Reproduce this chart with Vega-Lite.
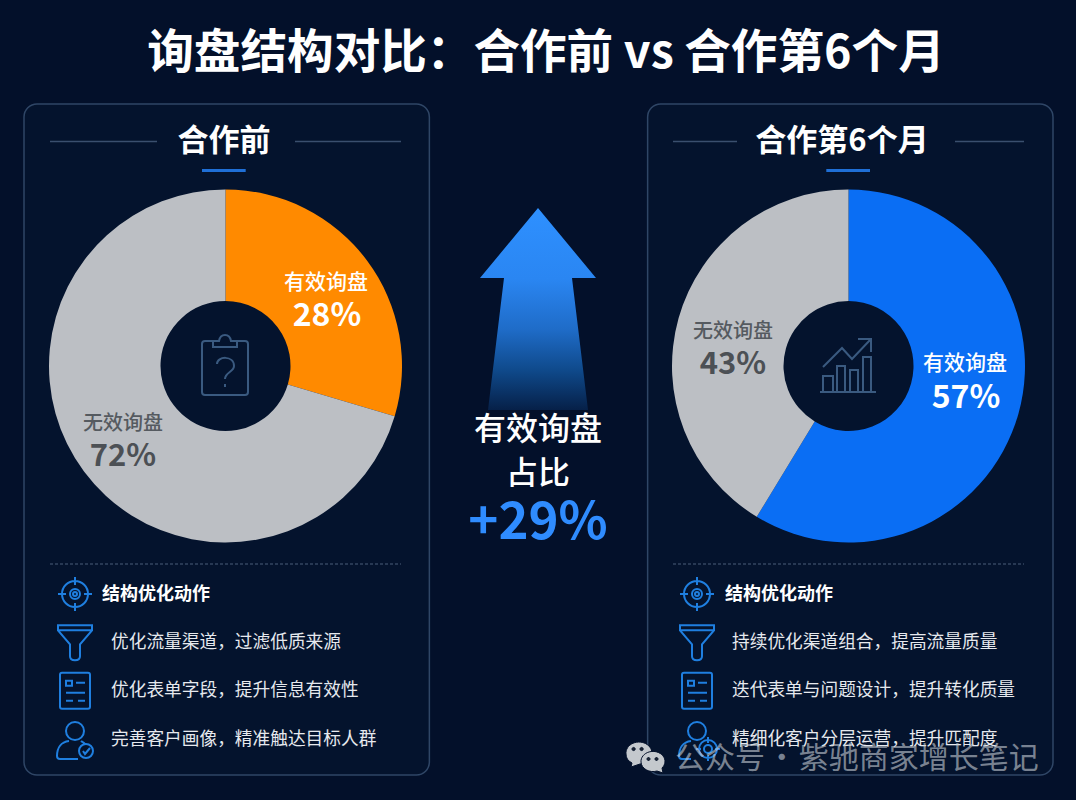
{
"$schema":"https://vega.github.io/schema/vega-lite/v6.json",
"width":1076,"height":800,"padding":0,
"autosize":{"type":"fit","contains":"padding"},
"background":"#03102a",
"config":{"font":"Noto Sans CJK SC","view":{"stroke":null}},
"datasets":{
"panels":[{"panel":"合作前","frame":"card"},{"panel":"合作第6个月","frame":"card"}],
"shares":[
{"panel":"合作前","slice":"有效询盘","share":0.28,"sweep":0.296},
{"panel":"合作前","slice":"无效询盘","share":0.72,"sweep":0.704},
{"panel":"合作第6个月","slice":"有效询盘","share":0.57,"sweep":0.587},
{"panel":"合作第6个月","slice":"无效询盘","share":0.43,"sweep":0.413}],
"actions":[
{"panel":"合作前","row":"target","icon":"target","label":"结构优化动作"},
{"panel":"合作前","row":"funnel","icon":"funnel","label":"优化流量渠道，过滤低质来源"},
{"panel":"合作前","row":"form","icon":"form","label":"优化表单字段，提升信息有效性"},
{"panel":"合作前","row":"person","icon":"person-check","label":"完善客户画像，精准触达目标人群"},
{"panel":"合作第6个月","row":"target","icon":"target","label":"结构优化动作"},
{"panel":"合作第6个月","row":"funnel","icon":"funnel","label":"持续优化渠道组合，提高流量质量"},
{"panel":"合作第6个月","row":"form","icon":"form","label":"迭代表单与问题设计，提升转化质量"},
{"panel":"合作第6个月","row":"person","icon":"person-target","label":"精细化客户分层运营，提升匹配度"}]
},
"resolve":{"scale":{"x":"independent","y":"independent","theta":"independent","color":"independent","shape":"independent"}},
"layer":[
{"data":{"name":"panels"},"mark":{"type":"rect","fill":"#04132d","stroke":"#2f4666","strokeWidth":1.5,"cornerRadius":13},
 "encoding":{"x":{"field":"panel","type":"nominal","axis":null,"scale":{"type":"band","domain":["合作前","合作第6个月"],"range":[24,1053],"paddingInner":0.35,"paddingOuter":0}},
 "y":{"field":"frame","type":"nominal","axis":null,"scale":{"type":"band","domain":["card"],"range":[104,775],"padding":0}}}},
{"data":{"values":[{"label":"询盘结构对比：合作前 vs 合作第6个月"}]},"mark":{"type":"text","fontSize":46.6,"fontWeight":"bold","fill":"#ffffff","baseline":"middle"},
 "encoding":{"text":{"field":"label"},"x":{"field":"label","type":"nominal","axis":null,"scale":{"range":[546,546]}},"y":{"field":"label","type":"nominal","axis":null,"scale":{"range":[54,54]}}}},
{"data":{"name":"panels"},"mark":{"type":"text","fontSize":31,"fontWeight":"bold","fill":"#ffffff","baseline":"middle"},
 "encoding":{"text":{"field":"panel"},"x":{"field":"panel","type":"nominal","axis":null,"scale":{"domain":["合作前","合作第6个月"],"range":[224,842],"padding":0}},"y":{"field":"frame","type":"nominal","axis":null,"scale":{"range":[142,142]}}}},
{"data":{"values":[{"a":"start","b":"end","line":"head"}]},"mark":{"type":"rule","stroke":"#3a4f6e","strokeWidth":1.5},
 "encoding":{"x":{"field":"a","type":"nominal","axis":null,"scale":{"type":"point","domain":["start","end"],"range":[50,157],"padding":0}},"x2":{"field":"b"},"y":{"field":"line","type":"nominal","axis":null,"scale":{"range":[141.5,141.5]}}}},
{"data":{"values":[{"a":"start","b":"end","line":"head"}]},"mark":{"type":"rule","stroke":"#3a4f6e","strokeWidth":1.5},
 "encoding":{"x":{"field":"a","type":"nominal","axis":null,"scale":{"type":"point","domain":["start","end"],"range":[295,401],"padding":0}},"x2":{"field":"b"},"y":{"field":"line","type":"nominal","axis":null,"scale":{"range":[141.5,141.5]}}}},
{"data":{"values":[{"a":"start","b":"end","line":"head"}]},"mark":{"type":"rule","stroke":"#3a4f6e","strokeWidth":1.5},
 "encoding":{"x":{"field":"a","type":"nominal","axis":null,"scale":{"type":"point","domain":["start","end"],"range":[673,737],"padding":0}},"x2":{"field":"b"},"y":{"field":"line","type":"nominal","axis":null,"scale":{"range":[141.5,141.5]}}}},
{"data":{"values":[{"a":"start","b":"end","line":"head"}]},"mark":{"type":"rule","stroke":"#3a4f6e","strokeWidth":1.5},
 "encoding":{"x":{"field":"a","type":"nominal","axis":null,"scale":{"type":"point","domain":["start","end"],"range":[955,1024],"padding":0}},"x2":{"field":"b"},"y":{"field":"line","type":"nominal","axis":null,"scale":{"range":[141.5,141.5]}}}},
{"data":{"name":"panels"},"mark":{"type":"rect","fill":"#1f6fd6"},
 "encoding":{"x":{"field":"panel","type":"nominal","axis":null,"scale":{"type":"band","domain":["合作前","合作第6个月"],"range":[202,870],"paddingInner":0.93,"paddingOuter":0}},
 "y":{"field":"frame","type":"nominal","axis":null,"scale":{"type":"band","domain":["card"],"range":[169,172],"padding":0}}}},
{"data":{"values":[{"a":"start","b":"end","line":"divider"}]},"mark":{"type":"rule","stroke":"#4a5f7a","strokeWidth":1,"strokeDash":[3,2]},
 "encoding":{"x":{"field":"a","type":"nominal","axis":null,"scale":{"type":"point","domain":["start","end"],"range":[50,401],"padding":0}},"x2":{"field":"b"},"y":{"field":"line","type":"nominal","axis":null,"scale":{"range":[564,564]}}}},
{"data":{"values":[{"a":"start","b":"end","line":"divider"}]},"mark":{"type":"rule","stroke":"#4a5f7a","strokeWidth":1,"strokeDash":[3,2]},
 "encoding":{"x":{"field":"a","type":"nominal","axis":null,"scale":{"type":"point","domain":["start","end"],"range":[673,1024],"padding":0}},"x2":{"field":"b"},"y":{"field":"line","type":"nominal","axis":null,"scale":{"range":[564,564]}}}},
{"data":{"name":"shares"},"transform":[{"filter":"datum.panel==='合作前'"}],"mark":{"type":"arc","outerRadius":176.5,"innerRadius":65},
 "encoding":{"theta":{"field":"sweep","type":"quantitative","stack":true},"order":{"field":"slice","sort":"descending"},
 "color":{"field":"slice","type":"nominal","legend":null,"scale":{"domain":["有效询盘","无效询盘"],"range":["#ff8a00","#bcbfc4"]}},
 "x":{"field":"panel","type":"nominal","axis":null,"scale":{"range":[225.5,225.5]}},"y":{"field":"panel","type":"nominal","axis":null,"scale":{"range":[366,366]}}}},
{"data":{"name":"shares"},"transform":[{"filter":"datum.panel==='合作第6个月'"}],"mark":{"type":"arc","outerRadius":176.5,"innerRadius":65},
 "encoding":{"theta":{"field":"sweep","type":"quantitative","stack":true},"order":{"field":"slice","sort":"descending"},
 "color":{"field":"slice","type":"nominal","legend":null,"scale":{"domain":["有效询盘","无效询盘"],"range":["#0a6ef4","#bcbfc4"]}},
 "x":{"field":"panel","type":"nominal","axis":null,"scale":{"range":[848.5,848.5]}},"y":{"field":"panel","type":"nominal","axis":null,"scale":{"range":[366,366]}}}},
{"data":{"name":"shares"},"transform":[{"filter":"datum.slice==='有效询盘'"}],"mark":{"type":"text","fontSize":21,"fontWeight":500,"fill":"#ffffff","baseline":"middle"},
 "encoding":{"text":{"field":"slice"},"x":{"field":"panel","type":"nominal","axis":null,"scale":{"domain":["合作前","合作第6个月"],"range":[326,965],"padding":0}},"y":{"field":"panel","type":"nominal","axis":null,"scale":{"domain":["合作前","合作第6个月"],"range":[283,364],"padding":0}}}},
{"data":{"name":"shares"},"transform":[{"filter":"datum.slice==='有效询盘'"}],"mark":{"type":"text","fontSize":32,"fontWeight":"bold","fill":"#ffffff","baseline":"middle"},
 "encoding":{"text":{"field":"share","type":"quantitative","format":".0%"},"x":{"field":"panel","type":"nominal","axis":null,"scale":{"domain":["合作前","合作第6个月"],"range":[327,966],"padding":0}},"y":{"field":"panel","type":"nominal","axis":null,"scale":{"domain":["合作前","合作第6个月"],"range":[316,398],"padding":0}}}},
{"data":{"name":"shares"},"transform":[{"filter":"datum.slice==='无效询盘'"}],"mark":{"type":"text","fontSize":20,"fontWeight":500,"fill":"#555a60","baseline":"middle"},
 "encoding":{"text":{"field":"slice"},"x":{"field":"panel","type":"nominal","axis":null,"scale":{"domain":["合作前","合作第6个月"],"range":[123,733],"padding":0}},"y":{"field":"panel","type":"nominal","axis":null,"scale":{"domain":["合作前","合作第6个月"],"range":[424,332],"padding":0}}}},
{"data":{"name":"shares"},"transform":[{"filter":"datum.slice==='无效询盘'"}],"mark":{"type":"text","fontSize":31,"fontWeight":"bold","fill":"#4c5055","baseline":"middle"},
 "encoding":{"text":{"field":"share","type":"quantitative","format":".0%"},"x":{"field":"panel","type":"nominal","axis":null,"scale":{"domain":["合作前","合作第6个月"],"range":[123,733],"padding":0}},"y":{"field":"panel","type":"nominal","axis":null,"scale":{"domain":["合作前","合作第6个月"],"range":[457,365],"padding":0}}}},
{"data":{"name":"panels"},"mark":{"type":"point","filled":false,"stroke":"#3a5a80","strokeWidth":2,"opacity":1,"size":4},
 "encoding":{"x":{"field":"panel","type":"nominal","axis":null,"scale":{"domain":["合作前","合作第6个月"],"range":[225,848],"padding":0}},"y":{"field":"frame","type":"nominal","axis":null,"scale":{"range":[365,365]}},
 "shape":{"field":"panel","type":"nominal","legend":null,"scale":{"domain":["合作前","合作第6个月"],"range":[
 "M-9,-24H-20Q-23,-24 -23,-21V27Q-23,30 -20,30H20Q23,30 23,27V-21Q23,-24 20,-24H9 M-12,-18V-24H-6Q-5,-30 0,-30Q5,-30 6,-24H12V-18Z M-8,-1C-8,-9 9,-10 9,1C9,7 0,7 0,14 M0,19V22",
 "M-28,27H28 M-25,27V11H-15V27 M-11,27V1H-3V27 M2,27V5H10V27 M15,27V-8H23V27 M-25,2L-6,-17L4,-6L23,-26 M10,-26H23V-13"]}}}},
{"data":{"name":"actions"},"mark":{"type":"point","filled":false,"stroke":"#1f7fe0","strokeWidth":2,"opacity":1,"size":4},
 "encoding":{"x":{"field":"panel","type":"nominal","axis":null,"scale":{"domain":["合作前","合作第6个月"],"range":[75,697],"padding":0}},
 "y":{"field":"row","type":"nominal","axis":null,"scale":{"domain":["target","funnel","form","person"],"range":[594,739],"padding":0}},
 "shape":{"field":"icon","type":"nominal","legend":null,"scale":{"domain":["target","funnel","form","person-check","person-target"],"range":[
 "M-13,0A13,13 0 1 1 13,0A13,13 0 1 1 -13,0Z M0,-17V-9 M0,9V17 M-17,0H-9 M9,0H17 M-5,0A5,5 0 1 1 5,0A5,5 0 1 1 -5,0Z M-2,0A2,2 0 1 1 2,0A2,2 0 1 1 -2,0Z",
 "M-17,-17H17V-12L5,2V14Q5,18 0,18Q-5,18 -5,14V2L-17,-12Z M-16,-12H16",
 "M-15,-16Q-15,-18 -13,-18H13Q15,-18 15,-16V16Q15,18 13,18H-13Q-15,18 -15,16Z M-9,-10H-3V-5H-9Z M1,-8H10 M-9,2H10 M-9,10H-2 M3,10H10",
 "M-9,-8A9,9 0 1 1 9,-8A9,9 0 1 1 -9,-8Z M-6,2C-14,3 -18,9 -18,17Q-18,20 -15,20H3 M6,2C7,3 9,3 10,5 M4,12A7,7 0 1 1 18,12A7,7 0 1 1 4,12Z M8,12L10,15L15,9",
 "M-9,-8A9,9 0 1 1 9,-8A9,9 0 1 1 -9,-8Z M-6,2C-14,3 -18,9 -18,17Q-18,20 -15,20H-6 M2,10A9,9 0 1 1 20,10A9,9 0 1 1 2,10Z M7,10A4,4 0 1 1 15,10A4,4 0 1 1 7,10Z M11,-2V4 M11,16V22 M-1,10H4 M18,10H23"]}}}},
{"data":{"name":"actions"},"transform":[{"filter":"datum.row==='target'"}],"mark":{"type":"text","fontSize":18,"fontWeight":"bold","fill":"#ffffff","align":"left","baseline":"middle"},
 "encoding":{"text":{"field":"label"},"x":{"field":"panel","type":"nominal","axis":null,"scale":{"domain":["合作前","合作第6个月"],"range":[102,725],"padding":0}},"y":{"field":"row","type":"nominal","axis":null,"scale":{"range":[595,595]}}}},
{"data":{"name":"actions"},"transform":[{"filter":"datum.row!=='target'"}],"mark":{"type":"text","fontSize":17.7,"fill":"#e6e9ee","align":"left","baseline":"middle"},
 "encoding":{"text":{"field":"label"},"x":{"field":"panel","type":"nominal","axis":null,"scale":{"domain":["合作前","合作第6个月"],"range":[111,732],"padding":0}},"y":{"field":"row","type":"nominal","axis":null,"scale":{"domain":["funnel","form","person"],"range":[642.5,740],"padding":0}}}},
{"data":{"values":[{"label":"增长"}]},"mark":{"type":"point","filled":true,"opacity":1,"size":4,"fill":{"gradient":"linear","x1":0,"y1":0,"x2":0,"y2":1,"stops":[{"offset":0,"color":"#2e90ff"},{"offset":0.35,"color":"#2a86f2"},{"offset":0.6,"color":"#1f6cc8"},{"offset":0.8,"color":"#0f4a8c"},{"offset":1,"color":"#062048"}]},
 "shape":"M0,-101L58,-31H34L50,101H-50L-34,-31H-58Z"},
 "encoding":{"x":{"field":"label","type":"nominal","axis":null,"scale":{"range":[538,538]}},"y":{"field":"label","type":"nominal","axis":null,"scale":{"range":[309,309]}}}},
{"data":{"values":[{"label":"有效询盘"},{"label":"占比"}]},"mark":{"type":"text","fontSize":32,"fontWeight":500,"fill":"#ffffff","baseline":"middle"},
 "encoding":{"text":{"field":"label"},"x":{"field":"label","type":"nominal","axis":null,"scale":{"range":[538,538]}},"y":{"field":"label","type":"nominal","axis":null,"scale":{"domain":["有效询盘","占比"],"range":[430,474],"padding":0}}}},
{"data":{"values":[{"label":"+29%"}]},"mark":{"type":"text","fontSize":51,"fontWeight":"bold","fill":"#2f8cff","baseline":"middle"},
 "encoding":{"text":{"field":"label"},"x":{"field":"label","type":"nominal","axis":null,"scale":{"range":[538,538]}},"y":{"field":"label","type":"nominal","axis":null,"scale":{"range":[524,524]}}}},
{"data":{"values":[{"label":"公众号\u200a·\u200a紫驰商家增长笔记"}]},"mark":{"type":"text","fontSize":30,"fill":"#c9cfd6","fillOpacity":0.6,"align":"left","baseline":"middle"},
 "encoding":{"text":{"field":"label"},"x":{"field":"label","type":"nominal","axis":null,"scale":{"range":[675,675]}},"y":{"field":"label","type":"nominal","axis":null,"scale":{"range":[759,759]}}}},
{"data":{"values":[{"part":"back"},{"part":"front"},{"part":"dots"}]},"mark":{"type":"point","filled":true,"opacity":1,"size":4,"stroke":"#03102a","strokeWidth":1},
 "encoding":{"x":{"field":"part","type":"nominal","axis":null,"scale":{"range":[644,644]}},"y":{"field":"part","type":"nominal","axis":null,"scale":{"range":[757,757]}},
 "color":{"field":"part","type":"nominal","legend":null,"scale":{"domain":["back","front","dots"],"range":["#c4c8cd","#c4c8cd","#1c2430"]}},
 "shape":{"field":"part","type":"nominal","legend":null,"scale":{"domain":["back","front","dots"],"range":[
 "M-18,-3A13,11 0 1 1 -4,7L-13,10L-12,6Q-18,3 -18,-3Z",
 "M-3,5A12,10 0 1 1 18,11L19,16L13,14A12,10 0 0 1 -3,5Z",
 "M-12,-8A1.6,1.6 0 1 1 -8.8,-8A1.6,1.6 0 1 1 -12,-8Z M-4,-8A1.6,1.6 0 1 1 -0.8,-8A1.6,1.6 0 1 1 -4,-8Z M3,2A1.5,1.5 0 1 1 6,2A1.5,1.5 0 1 1 3,2Z M11,2A1.5,1.5 0 1 1 14,2A1.5,1.5 0 1 1 11,2Z"]}}}}
]
}
